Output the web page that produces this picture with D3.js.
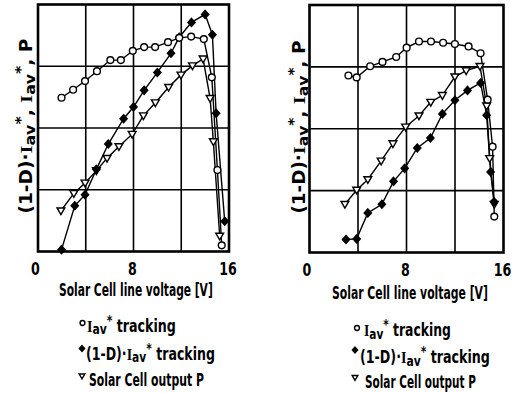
<!DOCTYPE html>
<html><head><meta charset="utf-8">
<script src="https://cdn.jsdelivr.net/npm/d3@7"></script>
<style>body{margin:0;background:#fff}svg{display:block}</style>
</head><body>
<svg id="c" width="516" height="393"></svg>
<script>
// ---------- data ----------
const xTickValues = [0, 8, 16];
const xTickLabels = ["0", "8", "16"];
const xGridValues = [4, 8, 12];
const yGridValues = [1, 2, 3];
const xTitle = "Solar Cell line voltage [V]";

// left panel
const leftIavV  = [1.97,2.94,3.94,4.94,6.06,6.94,7.94,8.89,9.81,10.89,11.83,12.83,13.89,14.56,15.03,15.39];
const leftIavY  = [2.49,2.62,2.76,2.92,3.10,3.10,3.25,3.31,3.31,3.39,3.46,3.48,3.44,2.82,1.32,0.10];
const leftDIavV = [1.97,3.08,3.94,4.89,5.89,7.17,8.0,8.89,10.0,11.14,11.83,12.86,14.0,14.61,14.92,15.64];
const leftDIavY = [0.03,0.74,0.92,1.33,1.74,2.15,2.34,2.61,2.90,3.21,3.47,3.71,3.84,3.51,2.24,0.49];
const leftPV    = [1.92,3.0,3.94,4.89,5.78,6.78,7.89,8.83,9.83,10.94,11.98,12.94,13.83,14.42,14.69,15.22];
const leftPY    = [0.66,0.94,1.11,1.31,1.51,1.70,1.90,2.20,2.41,2.66,2.86,3.01,3.12,2.48,1.78,0.25];

// right panel
const rightIavV  = [3.21,3.89,5.0,6.02,7.15,8.01,9.03,10.02,11.02,11.99,13.12,14.11,14.69,15.10,15.24];
const rightIavY  = [2.86,2.83,3.01,3.08,3.16,3.31,3.41,3.41,3.39,3.37,3.33,3.22,2.47,1.71,0.58];
const rightDIavV = [3.01,3.89,4.81,5.97,6.93,7.85,8.89,9.97,10.96,11.99,13.03,14.11,14.61,14.94,15.22];
const rightDIavY = [0.21,0.22,0.64,0.78,1.15,1.36,1.69,1.85,2.24,2.46,2.62,2.74,2.22,1.30,0.82];
const rightPV    = [2.92,3.89,4.81,5.91,6.88,7.93,9.03,10.0,10.96,11.99,12.92,14.06,14.61,14.86,15.24];
const rightPY    = [0.78,1.01,1.18,1.48,1.76,2.03,2.21,2.43,2.54,2.84,2.94,3.01,2.37,1.52,0.78];

// label segments: t = text, s = serif, sub / sup
const yLabelParts = [{t:"(1-D)·"},{t:"I",s:1},{t:"av",sub:1},{t:"*",sup:1},{t:", "},{t:"I",s:1},{t:"av",sub:1},{t:"*",sup:1},{t:", P"}];
const legendParts = [
  [{t:"I",s:1},{t:"av",sub:1},{t:"*",sup:1},{t:" tracking"}],
  [{t:"(1-D)·"},{t:"I",s:1},{t:"av",sub:1},{t:"*",sup:1},{t:" tracking"}],
  [{t:"Solar Cell output  P"}]
];
const markerKinds = ["circle","diamond","triangle"];

// ---------- layout ----------
const panels = [
  {series:[[leftIavV,leftIavY],[leftDIavV,leftDIavY],[leftPV,leftPY]],
   xr:[38,229], yr:[251.5,4.5], tickY:262, titleX:59, titleW:154, titleY:296,
   ylab:{x:32,y:126,len:175},
   leg:[{mx:82.5,my:323,tx:87,ty:331.5,w:89},{mx:82,my:348.5,tx:86,ty:359.5,w:129},{mx:82,my:376,tx:89,ty:385.5,w:115}]},
  {series:[[rightIavV,rightIavY],[rightDIavV,rightDIavY],[rightPV,rightPY]],
   xr:[309.5,503.5], yr:[252.5,5], tickY:263.5, titleX:332, titleW:156, titleY:298.5,
   ylab:{x:305,y:127,len:173},
   leg:[{mx:357,my:328,tx:364,ty:336,w:87},{mx:355,my:350,tx:360,ty:363,w:130},{mx:355,my:377.5,tx:365,ty:388,w:111}]}
];

const FONT = "'Liberation Sans Narrow','DejaVu Sans Condensed','Liberation Sans',sans-serif";
const SERIF = "'Liberation Serif','DejaVu Serif',serif";
const svg = d3.select("#c");

function markerPath(kind) {
  if (kind === "circle") return d3.symbol(d3.symbolCircle, 36)();
  if (kind === "diamond") return "M0,-4L3.6,0L0,4L-3.6,0Z";
  return "M-3.9,-2.8L3.9,-2.8L0,3.9Z";
}
function drawMarker(g, kind, x, y, s) {
  s = s || 1;
  g.append("path").attr("d", markerPath(kind))
    .attr("transform", `translate(${x},${y}) scale(${s})`)
    .attr("fill", kind === "diamond" ? "#000" : "#fff")
    .attr("stroke", "#000").attr("stroke-width", 1.4 / s);
}
function richText(g, parts, size) {
  const t = g.append("text").attr("font-family", FONT).attr("font-weight", "bold")
    .attr("font-size", size).attr("fill", "#000");
  let cur = 0;
  parts.forEach(p => {
    const target = p.sub ? 2.5 : p.sup ? -7 : 0;
    const ts = t.append("tspan").text(p.t).attr("dy", target - cur);
    cur = target;
    if (p.s) ts.attr("font-family", SERIF);
    if (p.sub || p.sup) ts.attr("font-size", size * 0.85);
  });
  return t;
}
function fitGroup(parent, x, y, width, build, rotate) {
  const g = parent.append("g");
  const inner = g.append("g");
  build(inner);
  const bb = inner.node().getBBox();
  const k = width / bb.width;
  const off = rotate ? -(bb.x + bb.width / 2) : -bb.x;
  inner.attr("transform", `scale(${k},1) translate(${off},0)`);
  g.attr("transform", `translate(${x},${y})` + (rotate ? " rotate(-90)" : ""));
  return g;
}

panels.forEach(p => {
  const x = d3.scaleLinear([0, 16], p.xr);
  const y = d3.scaleLinear([0, 4], p.yr);
  const g = svg.append("g");

  // grid
  g.selectAll(".gx").data(xGridValues).join("line")
    .attr("x1", d => x(d)).attr("x2", d => x(d)).attr("y1", y(0)).attr("y2", y(4))
    .attr("stroke", "#000").attr("stroke-width", 1.6);
  g.selectAll(".gy").data(yGridValues).join("line")
    .attr("y1", d => y(d)).attr("y2", d => y(d)).attr("x1", x(0)).attr("x2", x(16))
    .attr("stroke", "#000").attr("stroke-width", 1.6);

  // lines
  const line = d3.line().x(d => x(d[0])).y(d => y(d[1]));
  p.series.forEach(([vs, ys]) => {
    g.append("path").datum(vs.map((v, i) => [v, ys[i]]))
      .attr("d", line).attr("fill", "none").attr("stroke", "#000").attr("stroke-width", 1.4);
  });
  // markers
  [2, 1, 0].forEach(si => {
    const [vs, ys] = p.series[si];
    vs.forEach((v, i) => drawMarker(g, markerKinds[si], x(v), y(ys[i])));
  });

  // frame
  g.append("rect").attr("x", x(0)).attr("y", y(4))
    .attr("width", x(16) - x(0)).attr("height", y(0) - y(4))
    .attr("fill", "none").attr("stroke", "#000").attr("stroke-width", 2.6);

  // x tick labels
  const ax = g.append("g").attr("transform", `translate(0,${y(0)})`)
    .call(d3.axisBottom(x).tickValues(xTickValues).tickSize(0)
      .tickPadding(p.tickY - y(0)).tickFormat((d, i) => xTickLabels[i]));
  ax.select(".domain").remove();
  ax.selectAll("text").attr("font-family", FONT).attr("font-weight", "bold")
    .attr("font-size", 18).attr("fill", "#000").attr("dx", (d, i) => i === 0 ? -4 : -2)
    .attr("transform", "scale(0.78,1)");

  // x title
  fitGroup(g, p.titleX, p.titleY, p.titleW, h => {
    h.append("text").text(xTitle).attr("font-family", FONT).attr("font-weight", "bold")
      .attr("font-size", 17.5).attr("fill", "#000");
  });

  // y label
  fitGroup(g, p.ylab.x, p.ylab.y, p.ylab.len, h => richText(h, yLabelParts, 17), true);

  // legend
  p.leg.forEach((L, i) => {
    drawMarker(g, markerKinds[i], L.mx, L.my, 0.72);
    fitGroup(g, L.tx, L.ty, L.w, h => richText(h, legendParts[i], 17));
  });
});
</script>
</body></html>
